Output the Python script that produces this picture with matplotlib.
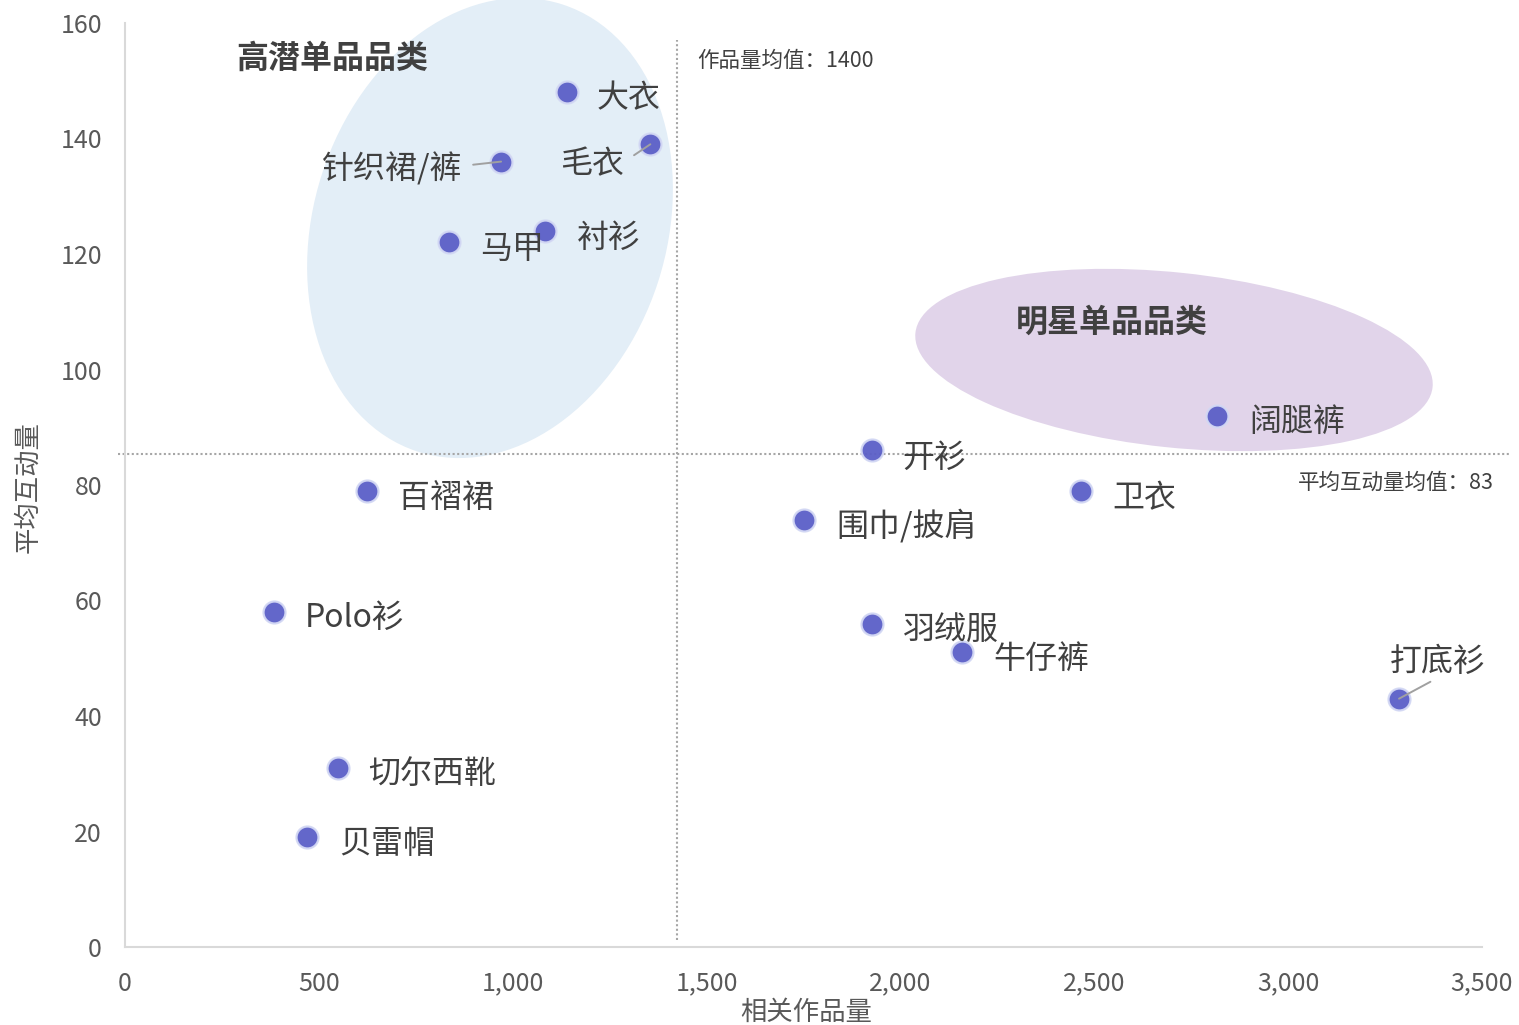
import matplotlib
matplotlib.use("Agg")
import matplotlib.pyplot as plt
from matplotlib.patches import Ellipse
from matplotlib.transforms import Affine2D
from matplotlib.ticker import FuncFormatter

plt.rcParams['font.family'] = ['Noto Sans CJK SC', 'DejaVu Sans']

# ---------------- data ----------------
categories = ["大衣", "毛衣", "针织裙/裤", "衬衫", "马甲", "百褶裙", "Polo衫", "切尔西靴",
              "贝雷帽", "开衫", "围巾/披肩", "卫衣", "阔腿裤", "羽绒服", "牛仔裤", "打底衫"]
works = [1140, 1355, 970, 1083, 835, 624, 384, 549,
         469, 1927, 1751, 2466, 2817, 1927, 2159, 3286]
interaction = [148, 139, 136, 124, 122, 79, 58, 31,
               19, 86, 74, 79, 92, 56, 51, 43]
mean_works = 1424
mean_interaction = 85.4
mean_works_label = "作品量均值：1400"
mean_interaction_label = "平均互动量均值：83"
x_ticks = [0, 500, 1000, 1500, 2000, 2500, 3000, 3500]
y_ticks = [0, 20, 40, 60, 80, 100, 120, 140, 160]
group_titles = ["高潜单品品类", "明星单品品类"]

# label offsets in pixels (dx, dy), alignment, leader line flag
label_layout = {
    "大衣": (30, -6, 'left', False),
    "毛衣": (-26, -20, 'right', True),
    "针织裙/裤": (-39, -7, 'right', True),
    "衬衫": (32, -7, 'left', False),
    "马甲": (31, -6, 'left', False),
    "百褶裙": (31, -7, 'left', False),
    "Polo衫": (31, -6, 'left', False),
    "切尔西靴": (30, -6, 'left', False),
    "贝雷帽": (32, -7, 'left', False),
    "开衫": (30, -8, 'left', False),
    "围巾/披肩": (32, -6, 'left', False),
    "卫衣": (31, -7, 'left', False),
    "阔腿裤": (32, -6, 'left', False),
    "羽绒服": (31, -6, 'left', False),
    "牛仔裤": (31, -6, 'left', False),
    "打底衫": (-9, 37, 'left', True),
}

W, H = 1519, 1025
fig = plt.figure(figsize=(W / 100, H / 100), dpi=100)
ax = fig.add_axes([125 / W, (H - 947) / H, (1482 - 125) / W, (947 - 23) / H])

text_color = "#404040"
tick_color = "#595959"

# ellipses (pixel coordinates, y up)
pix = Affine2D().scale(1 / W, 1 / H) + fig.transFigure
e1 = Ellipse((490, H - 228), width=353, height=470, angle=-18,
             facecolor="#E3EEF7", edgecolor="none", transform=pix, zorder=0, clip_on=False)
e2 = Ellipse((1174, H - 360), width=520, height=175, angle=-6,
             facecolor="#E1D4EA", edgecolor="none", transform=pix, zorder=0, clip_on=False)
ax.add_patch(e1)
ax.add_patch(e2)

# mean lines
ax.plot([mean_works, mean_works], [1.2, 157], linestyle=(0, (1, 1.2)), color="#A6A6A6",
        linewidth=1.5, zorder=1, clip_on=False)
ax.plot([-18, 3572], [mean_interaction, mean_interaction], linestyle=(0, (1, 1.2)),
        color="#A6A6A6", linewidth=1.5, zorder=1, clip_on=False)

# points
ax.scatter(works, interaction, s=250, color="#5B5FC7", edgecolor="#D3D8F4",
           linewidth=1.6, zorder=3, alpha=0.95)

for name, x, y in zip(categories, works, interaction):
    dx, dy, ha, leader = label_layout[name]
    kw = {}
    if leader:
        if name == "打底衫":
            rel = (0.5, 0.0)
            shr = 2
        elif ha == 'right':
            rel = (1.0, 0.58)
            shr = 6
        else:
            rel = (0.0, 0.5)
            shr = 6
        kw['arrowprops'] = dict(arrowstyle='-', color="#A0A0A0", lw=1.4,
                                shrinkA=shr, shrinkB=0, relpos=rel)
    ax.annotate(name, (x, y), xytext=(dx, dy), textcoords='offset pixels',
                ha=ha, va='center', fontsize=23, color=text_color, zorder=4, **kw)

# group titles
ax.text(286, 153.8, group_titles[0], fontsize=23, fontweight='bold', color=text_color,
        ha='left', va='center', zorder=4)
ax.text(2298, 108.1, group_titles[1], fontsize=23, fontweight='bold', color=text_color,
        ha='left', va='center', zorder=4)

# mean labels
ax.text(1475, 153.4, mean_works_label, fontsize=15.5, color=text_color,
        ha='left', va='center', zorder=4)
ax.text(3025, 80.4, mean_interaction_label, fontsize=15.5, color=text_color,
        ha='left', va='center', zorder=4)

ax.set_xlim(0, 3500)
ax.set_ylim(0, 160)
ax.set_xticks(x_ticks)
ax.set_yticks(y_ticks)
ax.xaxis.set_major_formatter(FuncFormatter(lambda v, p: f"{int(v):,}"))
ax.tick_params(axis='both', length=0, labelsize=18, labelcolor=tick_color)
ax.tick_params(axis='x', pad=17)
ax.tick_params(axis='y', pad=16.5)

for s in ['top', 'right']:
    ax.spines[s].set_visible(False)
for s in ['left', 'bottom']:
    ax.spines[s].set_color("#D9D9D9")
    ax.spines[s].set_linewidth(1.5)

ax.set_xlabel("相关作品量", fontsize=19, color=tick_color, va='center')
ax.xaxis.set_label_coords(0.502, -0.071)
ax.set_ylabel("平均互动量", fontsize=19, color=tick_color, va='center', ha='center')
ax.yaxis.set_label_coords(-0.0715, 0.498)

fig.savefig("out.png", dpi=100)
